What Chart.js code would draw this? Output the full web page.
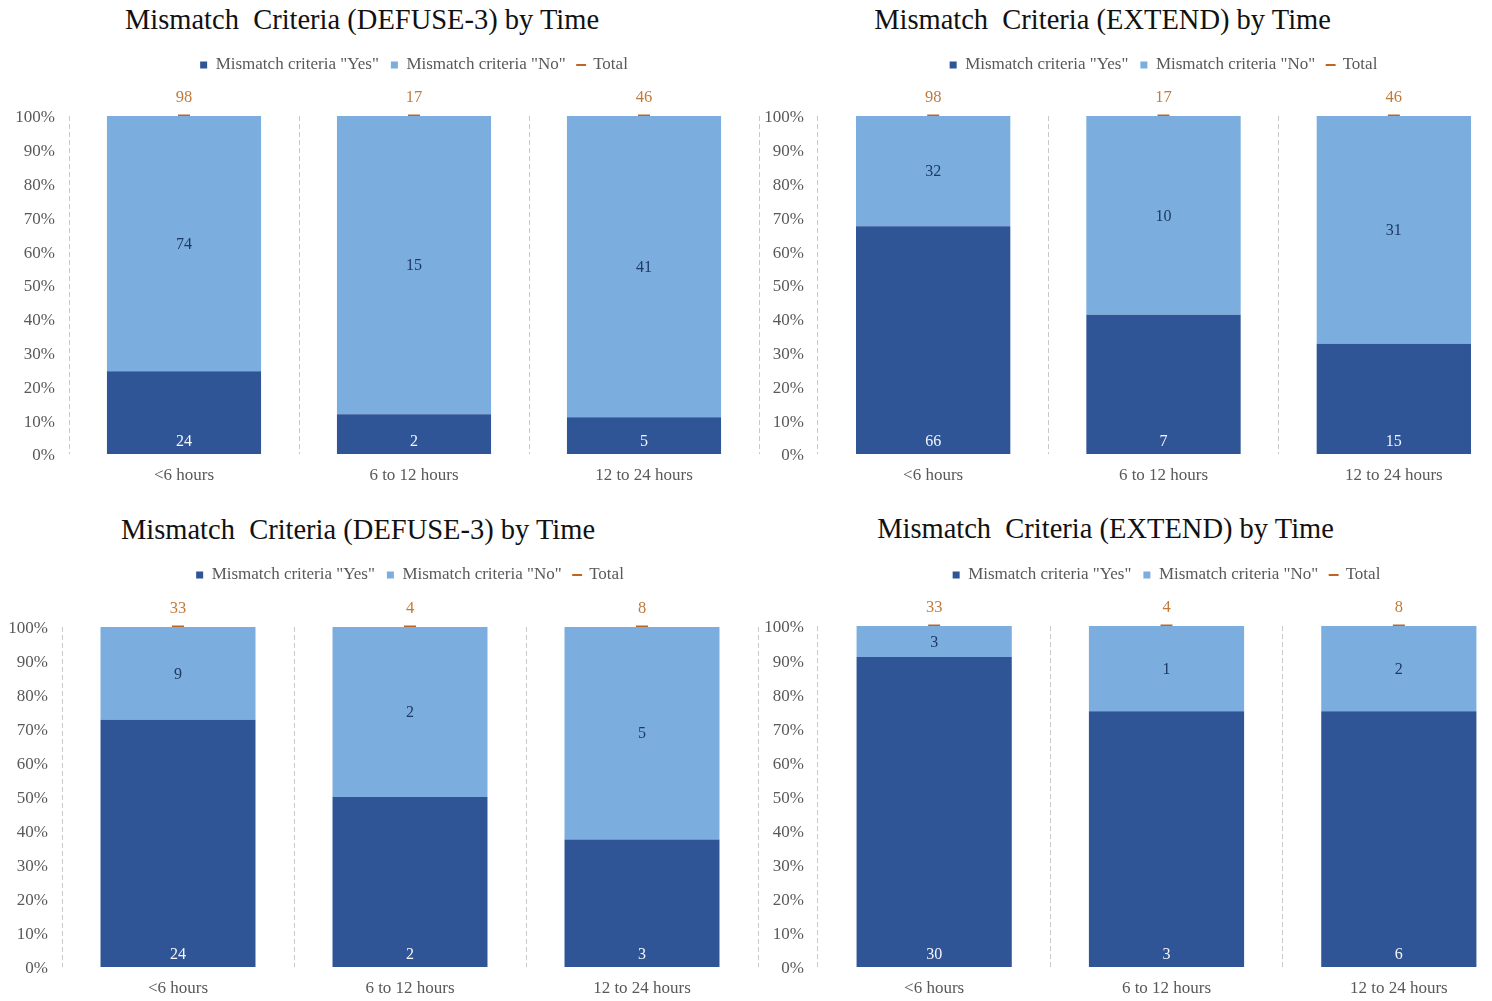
<!DOCTYPE html>
<html>
<head>
<meta charset="utf-8">
<title>Mismatch Criteria by Time</title>
<script src="https://cdn.jsdelivr.net/npm/chart.js@4/dist/chart.umd.min.js"></script>
<style>
  html, body { margin: 0; padding: 0; background: #fff; width: 1492px; height: 1001px; overflow: hidden; }
  .panel-title {
    position: absolute;
    font-family: "Liberation Serif", "Times New Roman", serif;
    font-size: 28.5px;
    line-height: 1;
    color: #111;
    white-space: pre;
    transform: translate(-50%, -50%);
  }
  canvas { position: absolute; }
</style>
</head>
<body>
<div class="panel-title" id="t1"></div>
<div class="panel-title" id="t2"></div>
<div class="panel-title" id="t3"></div>
<div class="panel-title" id="t4"></div>
<canvas id="c1"></canvas>
<canvas id="c2"></canvas>
<canvas id="c3"></canvas>
<canvas id="c4"></canvas>
<script>
// ---- data -------------------------------------------------------------
const categories = ['<6 hours', '6 to 12 hours', '12 to 24 hours'];
const seriesNames = ['Mismatch criteria "Yes"', 'Mismatch criteria "No"', 'Total'];

// all patients
const defuseAllYes = [24, 2, 5];
const defuseAllNo  = [74, 15, 41];
const extendAllYes = [66, 7, 15];
const extendAllNo  = [32, 10, 31];
const totalsAll    = [98, 17, 46];

// subgroup
const defuseSubYes = [24, 2, 3];
const defuseSubNo  = [9, 2, 5];
const extendSubYes = [30, 3, 6];
const extendSubNo  = [3, 1, 2];
const totalsSub    = [33, 4, 8];

const yTickStep = 10;

// ---- styling ----------------------------------------------------------
const FONT = '"Liberation Serif", "Times New Roman", serif';
const DARK = '#2F5597';
const LIGHT = '#7BAEDE';
const ORANGE = '#C0651F';
const ORANGE_TEXT = '#C27A3A';
const GREY = '#595959';
const GRID = '#C8C8C8';

Chart.defaults.font.family = FONT;
Chart.defaults.color = GREY;

const LEGEND_FONT = 17;
const LEGEND_PAD = 12;
const LEGEND_BOX = 7;
const legendStyles = ['rect', 'rect', 'line'];

// ---- panel layout (page pixels) -----------------------------------------
const panels = [
  { canvas: 'c1', titleEl: 't1', title: 'Mismatch  Criteria (DEFUSE-3) by Time',
    yes: defuseAllYes, no: defuseAllNo, total: totalsAll,
    origin: { left: 0, top: 0 }, area: { l: 69, r: 759, t: 116, b: 454 },
    legendY: 65, titleX: 362, titleY: 20, barPct: 0.67 },
  { canvas: 'c2', titleEl: 't2', title: 'Mismatch  Criteria (EXTEND) by Time',
    yes: extendAllYes, no: extendAllNo, total: totalsAll,
    origin: { left: 760, top: 0 }, area: { l: 818, r: 1509, t: 116, b: 454 },
    legendY: 65, titleX: 1102.5, titleY: 20, barPct: 0.67 },
  { canvas: 'c3', titleEl: 't3', title: 'Mismatch  Criteria (DEFUSE-3) by Time',
    yes: defuseSubYes, no: defuseSubNo, total: totalsSub,
    origin: { left: 0, top: 500 }, area: { l: 62, r: 758, t: 627, b: 967 },
    legendY: 575, titleX: 358, titleY: 530, barPct: 0.668 },
  { canvas: 'c4', titleEl: 't4', title: 'Mismatch  Criteria (EXTEND) by Time',
    yes: extendSubYes, no: extendSubNo, total: totalsSub,
    origin: { left: 760, top: 500 }, area: { l: 818, r: 1515, t: 626, b: 967 },
    legendY: 575, titleX: 1105.5, titleY: 529, barPct: 0.668 }
];

// share of the column total, in percent
const share = (counts, totals) => counts.map((c, i) => c / totals[i] * 100);

// writes the count of each mark next to it
const countLabels = {
  id: 'countLabels',
  afterDatasetsDraw(chart) {
    const ctx = chart.ctx;
    chart.data.datasets.forEach((ds, i) => {
      const meta = chart.getDatasetMeta(i);
      meta.data.forEach((el, j) => {
        let y;
        if (ds.labelAt === 'base') y = el.base - 12;
        else if (ds.labelAt === 'center') y = (el.y + el.base) / 2 + 1;
        else y = el.y - 18;
        ctx.save();
        ctx.font = (ds.labelAt === 'above' ? '16.5px ' : '16px ') + FONT;
        ctx.fillStyle = ds.labelColor;
        ctx.textAlign = 'center';
        ctx.textBaseline = 'middle';
        ctx.fillText(String(ds.counts[j]), el.x, y);
        ctx.restore();
      });
    });
  }
};

function build(p) {
  const cv = document.getElementById(p.canvas);
  const padR = 2;
  const bottomAxisH = 44;
  const W = p.area.r - p.origin.left + padR;
  const H = p.area.b - p.origin.top + bottomAxisH;
  cv.width = W;
  cv.height = H;
  cv.style.left = p.origin.left + 'px';
  cv.style.top = p.origin.top + 'px';

  const yAxisW = p.area.l - p.origin.left;
  const itemH = Math.max(LEGEND_FONT, LEGEND_BOX);
  const padT = p.legendY - p.origin.top - LEGEND_PAD - itemH / 2;
  const plotTop = p.area.t - p.origin.top;

  const t = document.getElementById(p.titleEl);
  t.textContent = p.title;
  t.style.left = p.titleX + 'px';
  t.style.top = p.titleY + 'px';

  return new Chart(cv, {
    data: {
      labels: categories,
      datasets: [
        { type: 'bar', label: seriesNames[0], xAxisID: 'x', yAxisID: 'y',
          data: share(p.yes, p.total), counts: p.yes,
          backgroundColor: DARK, borderWidth: 0, stack: 'cols',
          barPercentage: p.barPct, categoryPercentage: 1,
          labelAt: 'base', labelColor: '#F4F6FA' },
        { type: 'bar', label: seriesNames[1], xAxisID: 'x', yAxisID: 'y',
          data: share(p.no, p.total), counts: p.no,
          backgroundColor: LIGHT, borderWidth: 0, stack: 'cols',
          barPercentage: p.barPct, categoryPercentage: 1,
          labelAt: 'center', labelColor: '#1F3864' },
        { type: 'line', label: seriesNames[2], xAxisID: 'x', yAxisID: 'y',
          data: share(p.total, p.total), counts: p.total,
          showLine: false, stack: 'total', clip: false,
          borderColor: ORANGE, backgroundColor: ORANGE, borderWidth: 2,
          pointStyle: 'line', pointRadius: 6, pointBorderWidth: 3,
          pointBorderColor: ORANGE, pointBackgroundColor: ORANGE,
          labelAt: 'above', labelColor: ORANGE_TEXT }
      ]
    },
    options: {
      responsive: false,
      animation: false,
      events: [],
      layout: { autoPadding: false, padding: { left: 0, right: padR, top: padT, bottom: 0 } },
      scales: {
        x: {
          type: 'category', position: 'bottom', stacked: true, offset: true,
          grid: { display: true, offset: true, drawTicks: false, color: GRID, lineWidth: 1 },
          border: { display: false, dash: [5, 3] },
          ticks: { color: GREY, font: { size: 17 }, padding: 11 },
          afterFit(s) { s.height = bottomAxisH; }
        },
        gap: {
          type: 'category', position: 'top', labels: categories, offset: true,
          grid: { display: false, drawTicks: false }, border: { display: false },
          ticks: { display: false },
          afterFit(s) { s.height = plotTop - padT - s.chart.legend.height; }
        },
        y: {
          type: 'linear', position: 'left', stacked: true, min: 0, max: 100,
          grid: { display: false, drawTicks: false }, border: { display: false },
          ticks: { stepSize: yTickStep, color: GREY, font: { size: 17 }, padding: 14,
                   labelOffset: 2, callback: v => v + '%' },
          afterFit(s) { s.width = yAxisW; }
        }
      },
      plugins: {
        title: { display: false },
        tooltip: { enabled: false },
        legend: {
          display: true, position: 'top', fullSize: false,
          labels: {
            usePointStyle: true, boxWidth: LEGEND_BOX, boxHeight: LEGEND_BOX,
            padding: LEGEND_PAD, color: GREY, font: { size: LEGEND_FONT },
            generateLabels(chart) {
              const items = Chart.defaults.plugins.legend.labels.generateLabels(chart);
              items.forEach((it, k) => {
                it.pointStyle = legendStyles[k];
                if (legendStyles[k] === 'line') { it.lineWidth = 2; it.strokeStyle = ORANGE; }
              });
              return items;
            }
          }
        }
      }
    },
    plugins: [countLabels]
  });
}

panels.forEach(build);
</script>
</body>
</html>
